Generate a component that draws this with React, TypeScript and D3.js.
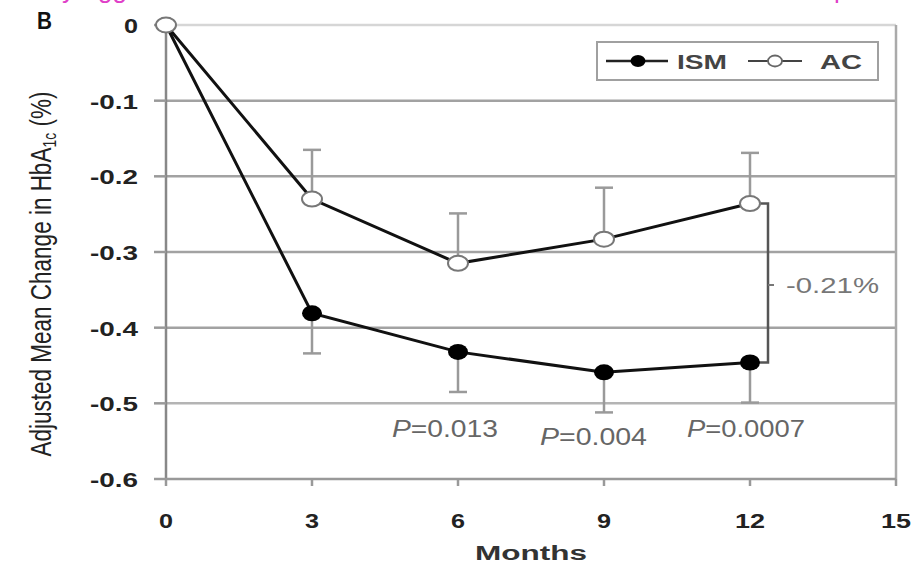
import React from "react";
import * as d3 from "d3";

const months = [0, 3, 6, 9, 12];
const ismMean = [0, -0.381, -0.432, -0.459, -0.446];
const ismErr = [0, 0.053, 0.053, 0.053, 0.053];
const acMean = [0, -0.23, -0.315, -0.283, -0.236];
const acErr = [0, 0.065, 0.066, 0.068, 0.067];
const yTicks = [0, -0.1, -0.2, -0.3, -0.4, -0.5, -0.6];
const xTicks = [0, 3, 6, 9, 12, 15];
const pLabels = [
  { m: 6, num: "=0.013", dy: 437, x0: 392, w: 106 },
  { m: 9, num: "=0.004", dy: 445, x0: 540, w: 107 },
  { m: 12, num: "=0.0007", dy: 437, x0: 687, w: 118 },
];
const diffLabel = "-0.21%";

const FONT = "'Liberation Sans', Arial, Helvetica, sans-serif";

export default function App() {
  const x = d3.scaleLinear().domain([0, 15]).range([166, 896]);
  const y = d3.scaleLinear().domain([0, -0.6]).range([25, 479]);
  const line = d3
    .line<number>()
    .x((_, i) => x(months[i]))
    .y((v) => y(v));

  const fmtY = (v: number) => (v === 0 ? "0" : d3.format(".1f")(v).replace("−", "-"));

  const bx = x(12) + 18;
  return (
    <svg width={916} height={562} style={{ position: "absolute", left: 0, top: 0, background: "#fff" }} fontFamily={FONT}>
      <rect x={0} y={0} width={916} height={562} fill="#fff" />
      {/* cropped pink text descenders from caption above */}
      <text x={62} y={-2} fontSize={26} fill="#e040c8">y</text>
      <text x={98} y={-2} fontSize={26} fill="#e040c8">gg</text>
      <text x={834} y={-2} fontSize={26} fill="#e040c8">p</text>

      {/* panel label */}
      <text x={37} y={29} fontSize={23} fontWeight="bold" fill="#111" textLength={15} lengthAdjust="spacingAndGlyphs">B</text>

      {/* gridlines */}
      {yTicks.slice(0, 6).map((t, i) => (
        <line key={"g" + i} x1={x(0)} x2={x(15)} y1={y(t)} y2={y(t)}
          stroke={i === 0 ? "#d6d6d6" : i === 5 ? "#b4b4b4" : "#a2a2a2"} strokeWidth={2.5} />
      ))}
      {/* right border */}
      <line x1={x(15)} x2={x(15)} y1={y(0)} y2={y(-0.6)} stroke="#aaa" strokeWidth={2.5} />
      {/* axes */}
      <line x1={x(0)} x2={x(0)} y1={y(0)} y2={y(-0.6)} stroke="#888" strokeWidth={2.5} />
      <line x1={x(0)} x2={x(15)} y1={y(-0.6)} y2={y(-0.6)} stroke="#999" strokeWidth={2.5} />
      {yTicks.map((t, i) => (
        <g key={"yt" + i}>
          <line x1={x(0) - 12} x2={x(0)} y1={y(t)} y2={y(t)} stroke="#999" strokeWidth={2.5} />
          <text x={138} y={y(t) + 8} textAnchor="end" fontSize={21} fontWeight="bold" fill="#222"
            textLength={t === 0 ? 14 : 48} lengthAdjust="spacingAndGlyphs">{fmtY(t)}</text>
        </g>
      ))}
      {xTicks.map((t, i) => (
        <g key={"xt" + i}>
          <line x1={x(t)} x2={x(t)} y1={y(-0.6)} y2={y(-0.6) + 7} stroke="#999" strokeWidth={2.5} />
          <text x={x(t)} y={528} textAnchor="middle" fontSize={21} fontWeight="bold" fill="#222"
            textLength={t >= 10 ? 30 : 14} lengthAdjust="spacingAndGlyphs">{t}</text>
        </g>
      ))}
      <text x={531} y={560} textAnchor="middle" fontSize={20} fontWeight="bold" fill="#333"
        textLength={112} lengthAdjust="spacingAndGlyphs">Months</text>

      {/* y axis title */}
      <g transform="translate(51,274) rotate(-90) scale(1,1.3)">
        <text x={0} y={0} textAnchor="middle" fontSize={22.5} fill="#222">
          Adjusted Mean Change in HbA<tspan fontSize={14} dy={4}>1c</tspan><tspan dy={-4}> (%)</tspan>
        </text>
      </g>

      {/* error bars */}
      {months.map((m, i) =>
        i === 0 ? null : (
          <g key={"eb" + i} stroke="#9a9a9a" strokeWidth={2.5}>
            <line x1={x(m)} x2={x(m)} y1={y(acMean[i])} y2={y(acMean[i] + acErr[i])} />
            <line x1={x(m) - 9} x2={x(m) + 9} y1={y(acMean[i] + acErr[i])} y2={y(acMean[i] + acErr[i])} />
            <line x1={x(m)} x2={x(m)} y1={y(ismMean[i])} y2={y(ismMean[i] - ismErr[i])} />
            <line x1={x(m) - 9} x2={x(m) + 9} y1={y(ismMean[i] - ismErr[i])} y2={y(ismMean[i] - ismErr[i])} />
          </g>
        )
      )}

      {/* difference bracket */}
      <polyline
        points={`${x(12) + 8},${y(acMean[4])} ${bx},${y(acMean[4])} ${bx},${y(ismMean[4])} ${x(12) + 8},${y(ismMean[4])}`}
        fill="none" stroke="#555" strokeWidth={2.5} />
      <line x1={bx} x2={bx + 6} y1={285} y2={285} stroke="#777" strokeWidth={2} />
      <text x={786} y={293} fontSize={22} fill="#777" textLength={93} lengthAdjust="spacingAndGlyphs">{diffLabel}</text>

      {/* lines */}
      <path d={line(ismMean) || ""} fill="none" stroke="#111" strokeWidth={3} />
      <path d={line(acMean) || ""} fill="none" stroke="#111" strokeWidth={3} />
      {months.map((m, i) => (
        <ellipse key={"ism" + i} cx={x(m)} cy={y(ismMean[i])} rx={10} ry={8} fill="#000" />
      ))}
      {months.map((m, i) => (
        <ellipse key={"ac" + i} cx={x(m)} cy={y(acMean[i])} rx={10} ry={7.5} fill="#fff" stroke="#777" strokeWidth={2} />
      ))}

      {/* P values */}
      {pLabels.map((p, i) => (
        <text key={"p" + i} x={p.x0} y={p.dy} fontSize={23} fill="#666" textLength={p.w} lengthAdjust="spacingAndGlyphs">
          <tspan fontStyle="italic">P</tspan>{p.num}
        </text>
      ))}

      {/* legend */}
      <rect x={597} y={42} width={281} height={38} fill="#fff" stroke="#a0a0a0" strokeWidth={2} />
      <line x1={606} x2={668} y1={61} y2={61} stroke="#222" strokeWidth={2.5} />
      <ellipse cx={638} cy={61} rx={7.5} ry={6} fill="#000" />
      <text x={677} y={69} fontSize={21} fontWeight="bold" fill="#444" textLength={50} lengthAdjust="spacingAndGlyphs">ISM</text>
      <line x1={748} x2={802} y1={61} y2={61} stroke="#444" strokeWidth={2} />
      <ellipse cx={775} cy={61} rx={7} ry={5.5} fill="#fff" stroke="#666" strokeWidth={1.8} />
      <text x={820} y={69} fontSize={21} fontWeight="bold" fill="#444" textLength={42} lengthAdjust="spacingAndGlyphs">AC</text>
    </svg>
  );
}
